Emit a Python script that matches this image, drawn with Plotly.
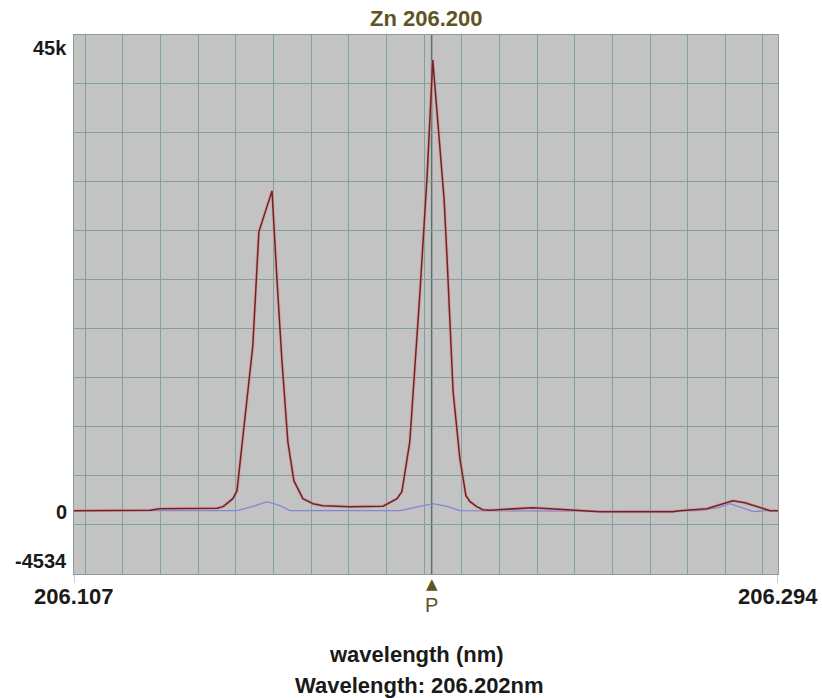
import numpy as np
import plotly.graph_objects as go

# ---- data ----
sample_wl = [206.1070, 206.1166, 206.1272, 206.1298, 206.1405, 206.1450, 206.1466, 206.1492,
             206.1503, 206.1545, 206.1561, 206.1596, 206.1609, 206.1622, 206.1638, 206.1654,
             206.1678, 206.1705, 206.1731, 206.1803, 206.1891, 206.1915, 206.1928, 206.1941,
             206.1962, 206.1989, 206.2008, 206.2023, 206.2029, 206.2042, 206.2053, 206.2061,
             206.2077, 206.2095, 206.2111, 206.2122, 206.2140, 206.2156, 206.2175, 206.2289,
             206.2395, 206.2467, 206.2661, 206.2680, 206.2751, 206.2786, 206.2820, 206.2852,
             206.2884, 206.2919, 206.2940]
sample_int = [1286, 1286, 1332, 1469, 1515, 1515, 1653, 2388,
              3123, 16439, 26909, 30675, 22593, 15245, 7623, 4041,
              2388, 1929, 1745, 1653, 1699, 2112, 2388, 3031,
              7623, 21399, 32052, 42706, 40042, 34072, 29940, 24430,
              12215, 6061, 2663, 2112, 1653, 1378, 1332, 1561,
              1313, 1194, 1194, 1286, 1469, 1837, 2204, 2020,
              1653, 1286, 1286]

blank_wl = [206.1070, 206.1450, 206.1503, 206.1543, 206.1583, 206.1617, 206.1644, 206.1936,
            206.1984, 206.2024, 206.2063, 206.2095, 206.2467, 206.2733, 206.2781, 206.2812,
            206.2844, 206.2874, 206.2905, 206.2940]
blank_int = [1286, 1286, 1286, 1653, 2112, 1745, 1286, 1286,
             1653, 1929, 1653, 1286, 1240, 1286, 1561, 1929,
             1561, 1194, 1286, 1286]

x_min, x_max = 206.107, 206.294
y_min, y_max = -4534, 45000
x_tick_labels = ["206.107", "206.294"]
y_tick_labels = ["45k", "0", "-4534"]
grid_step_x = 0.01
grid_step_y = 4500
marker_wavelength = 206.202
title_text = "Zn 206.200"
axis_title = "wavelength (nm)"
readout_text = "Wavelength: 206.202nm"

FONT = "Liberation Sans, Arial, sans-serif"
GRID = "#7fa39b"
OLIVE = "#5f5426"

fig = go.Figure()
fig.add_trace(go.Scatter(x=blank_wl, y=blank_int, mode="lines",
                         line=dict(color="#8088d0", width=1.3), hoverinfo="skip"))
fig.add_trace(go.Scatter(x=sample_wl, y=sample_int, mode="lines",
                         line=dict(color="#e58a8f", width=3.4), opacity=0.55, hoverinfo="skip"))
fig.add_trace(go.Scatter(x=sample_wl, y=sample_int, mode="lines",
                         line=dict(color="#6a2626", width=1.5), hoverinfo="skip"))

fig.update_layout(
    width=822, height=698,
    margin=dict(l=74, r=44, t=35, b=124),
    paper_bgcolor="white", plot_bgcolor="#c3c3c4",
    showlegend=False,
    xaxis=dict(range=[x_min, x_max], tickmode="linear", tick0=206.0, dtick=grid_step_x,
               showgrid=True, gridcolor=GRID, gridwidth=1, zeroline=False,
               showticklabels=False, ticks="",
               showline=True, linecolor="#8a9c98", linewidth=1, mirror=True),
    yaxis=dict(range=[y_min, y_max], tickmode="array",
               tickvals=list(range(0, y_max + 1, grid_step_y)),
               showgrid=True, gridcolor=GRID, gridwidth=1, zeroline=False,
               showticklabels=False, ticks="",
               showline=True, linecolor="#8a9c98", linewidth=1, mirror=True),
)

# marker line at measured wavelength
fig.add_shape(type="line", xref="x", yref="paper", x0=marker_wavelength, x1=marker_wavelength,
              y0=0, y1=1, line=dict(color="#5d6f6b", width=1.5), layer="below")
# small end ticks
for xv in (x_min, x_max):
    fig.add_shape(type="line", xref="x", yref="paper", x0=xv, x1=xv, y0=0, y1=-0.017,
                  line=dict(color="#8a9c98", width=1))

# y labels
for txt, yv, anc in zip(y_tick_labels, [y_max, 0, y_min], ["top", "bottom", "bottom"]):
    fig.add_annotation(text=txt, xref="paper", x=0, yref="y", y=yv, xanchor="right",
                       yanchor=anc, xshift=-5, showarrow=False,
                       font=dict(family=FONT, size=20, color="#1a1a1a", weight="bold"))
# x labels
for txt, xv in zip(x_tick_labels, [x_min, x_max]):
    fig.add_annotation(text=txt, xref="x", x=xv, yref="paper", y=-0.041, xanchor="center",
                       yanchor="middle", showarrow=False,
                       font=dict(family=FONT, size=22, color="#1a1a1a", weight="bold"))

# title
fig.add_annotation(text=title_text, xref="paper", x=0.5, yref="paper", y=1.0315,
                   xanchor="center", yanchor="middle", showarrow=False,
                   font=dict(family=FONT, size=22, color=OLIVE, weight="bold"))
# P marker
fig.add_annotation(text="▲", xref="x", x=marker_wavelength, yref="paper", y=-0.019,
                   xanchor="center", yanchor="middle", showarrow=False,
                   font=dict(family="DejaVu Sans", size=15, color=OLIVE))
fig.add_annotation(text="P", xref="x", x=marker_wavelength, yref="paper", y=-0.058,
                   xanchor="center", yanchor="middle", showarrow=False,
                   font=dict(family=FONT, size=20, color=OLIVE))
# bottom texts
fig.add_annotation(text=axis_title, xref="paper", x=0.486, yref="paper", y=-0.150,
                   xanchor="center", yanchor="middle", showarrow=False,
                   font=dict(family=FONT, size=22, color="#1a1a1a", weight="bold"))
fig.add_annotation(text=readout_text, xref="paper", x=0.491, yref="paper", y=-0.206,
                   xanchor="center", yanchor="middle", showarrow=False,
                   font=dict(family=FONT, size=22, color="#1a1a1a", weight="bold"))

fig.write_html("out.html", config={"displayModeBar": False},
               post_script="document.body.style.margin='0';document.body.style.overflow='hidden';")
